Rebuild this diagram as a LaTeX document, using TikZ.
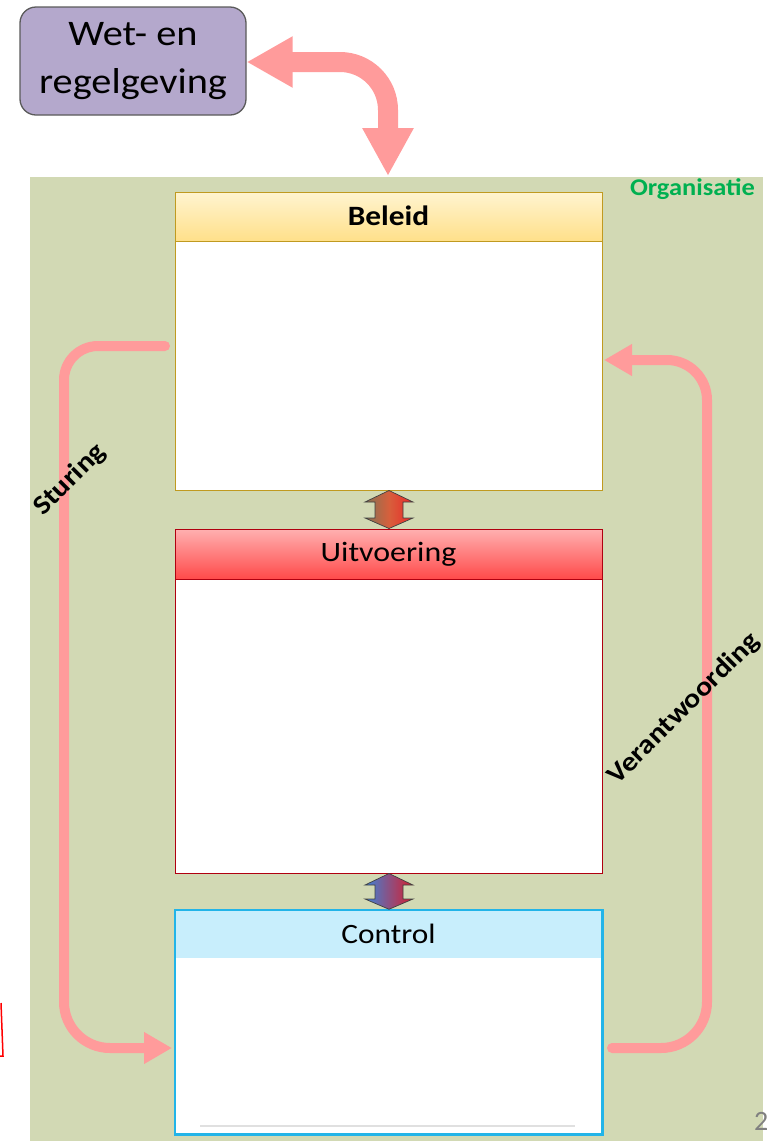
\documentclass[tikz,border=0pt]{standalone}
\usepackage{fontspec}
\setmainfont{Carlito}
\usetikzlibrary{arrows.meta,calc}
\definecolor{bgGreen}{HTML}{D2D9B4}
\definecolor{pinkA}{HTML}{FF9B9B}
\definecolor{wetFill}{HTML}{B4A8CC}
\definecolor{wetLine}{HTML}{5A5A5A}
\definecolor{orgGreen}{HTML}{00B050}
\definecolor{belLine}{HTML}{C09A20}
\definecolor{belTop}{HTML}{FFF4D0}
\definecolor{belBot}{HTML}{FFE08A}
\definecolor{uitLine}{HTML}{B00010}
\definecolor{uitTop}{HTML}{FFB0B0}
\definecolor{uitBot}{HTML}{FF4A4A}
\definecolor{conLine}{HTML}{22B4E8}
\definecolor{conFill}{HTML}{C8EEFC}
\definecolor{pageGrey}{HTML}{808080}
\tikzset{
  bodybox/.style={draw, line width=1pt, fill=white, minimum width=427pt, inner sep=0pt},
  headbox/.style={minimum width=427pt, minimum height=49pt, inner sep=0pt},
  headtext/.style={font=\fontsize{28}{34}\selectfont},
  bigarrow/.style={pinkA, line width=20pt, rounded corners=48pt, {Triangle[width=48pt,length=46pt]}-{Triangle[width=48pt,length=48pt]}},
  flowarrow/.style={pinkA, line width=10pt, line cap=round, -{Triangle[width=30pt,length=28pt]}},
  sidelabel/.style={font=\bfseries\fontsize{27}{32}\selectfont, inner sep=0pt},
  dblarrow/.style={draw=black!75, line width=0.7pt}
}
\begin{document}
\begin{tikzpicture}[x=1pt,y=-1pt]
\useasboundingbox (0,0) rectangle (771,1141);
% background
\fill[bgGreen] (30,177) rectangle (763,1141);
\node[font=\bfseries\fontsize{24}{28}\selectfont, text=orgGreen, anchor=east, inner sep=0pt] (org) at (755,189) {\scalebox{1.1}[1]{Organisatie}};
% Wet- en regelgeving
\node[draw=wetLine, line width=1.3pt, fill=wetFill, rounded corners=16pt, minimum width=226pt, minimum height=108pt, align=center, inner sep=0pt, font=\fontsize{36}{48}\selectfont] (wet) at (133,61) {\scalebox{1.12}[1]{Wet- en}\\\scalebox{1.12}[1]{regelgeving}};
% boxes
\node[bodybox, draw=belLine, minimum height=298pt] (beleid) at (388.5,341) {};
\node[headbox, draw=belLine, line width=1pt, top color=belTop, bottom color=belBot] (beleidh) at (388.5,216.5) {};
\node[headtext, font=\bfseries\fontsize{28}{34}\selectfont] (beleidt) at (388.5,216) {\scalebox{1.12}[1]{Beleid}};

\node[bodybox, draw=uitLine, minimum height=344pt] (uit) at (388.5,701) {};
\node[headbox, draw=uitLine, line width=1pt, top color=uitTop, bottom color=uitBot, minimum height=50pt] (uith) at (388.5,554) {};
\node[headtext] (uitt) at (388.5,554) {\scalebox{1.14}[1]{Uitvoering}};

\node[bodybox, draw=conLine, line width=1.5pt, minimum height=224pt] (con) at (388.5,1022) {};
\node[headbox, fill=conFill, minimum width=425pt, minimum height=47pt] (conh) at (388.5,934) {};
\node[headtext] (cont) at (388.5,934) {\scalebox{1.12}[1]{Control}};
\draw[black!12, line width=1.5pt] (200,1126) -- (575,1126);
\draw[conLine, line width=1.5pt] (con.south west) rectangle (con.north east);

% small double arrows
\shade[left color={rgb,255:red,130;green,115;blue,85}, right color={rgb,255:red,235;green,40;blue,40}, middle color={rgb,255:red,215;green,95;blue,60}]
  (beleid.south -| 389,0) -- (413,502) -- (403,502) -- (403,518) -- (413,518) -- (uit.north -| 389,0) -- (365,518) -- (375,518) -- (375,502) -- (365,502) -- cycle;
\draw[dblarrow]
  (beleid.south -| 389,0) -- (413,502) -- (403,502) -- (403,518) -- (413,518) -- (uit.north -| 389,0) -- (365,518) -- (375,518) -- (375,502) -- (365,502) -- cycle;
\shade[left color={rgb,255:red,60;green,130;blue,215}, right color={rgb,255:red,215;green,30;blue,45}, middle color={rgb,255:red,140;green,80;blue,130}]
  (uit.south -| 389,0) -- (413,885) -- (403,885) -- (403,899) -- (413,899) -- (con.north -| 389,0) -- (365,899) -- (375,899) -- (375,885) -- (365,885) -- cycle;
\draw[dblarrow]
  (uit.south -| 389,0) -- (413,885) -- (403,885) -- (403,899) -- (413,899) -- (con.north -| 389,0) -- (365,899) -- (375,899) -- (375,885) -- (365,885) -- cycle;

% big arrow between Wet and Organisatie
\coordinate (orgtop) at (388,176);
\draw[bigarrow] (wet.east |- 0,62) -| (orgtop);

% Sturing
\coordinate (stS) at (165,346);
\coordinate (stE) at (172,1048);
\draw[flowarrow] (stS) [rounded corners=34pt] -- (64,346) [rounded corners=46pt] -- (64,1048) -- (stE);
% Verantwoording
\coordinate (vS) at (612,1048);
\coordinate (vE) at (604,360);
\draw[flowarrow] (vS) [rounded corners=46pt] -- (707,1048) [rounded corners=40pt] -- (707,360) -- (vE);

\node[sidelabel, rotate=45] (sturing) at (70,480) {\scalebox{1.12}[1]{Sturing}};
\node[sidelabel, rotate=45] (verant) at (684,709) {\scalebox{1.12}[1]{Verantwoording}};

% remnant red outline at left edge
\draw[red, line width=1.5pt] (1,1003) -- (3,1056) -- (0,1056);
% page number
\node[text=pageGrey, font=\fontsize{28}{32}\selectfont, anchor=west, inner sep=0pt] (pnum) at (754,1121) {2};
\end{tikzpicture}
\end{document}
